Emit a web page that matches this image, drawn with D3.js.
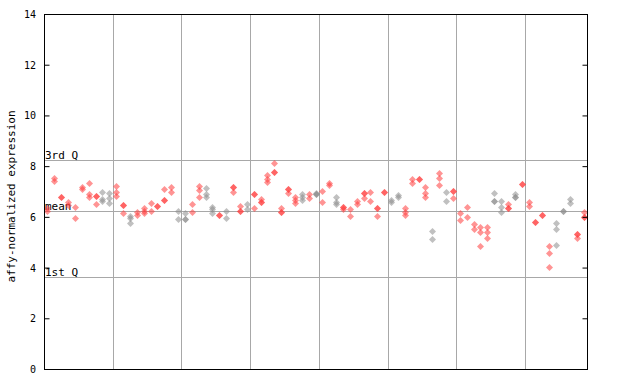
<!DOCTYPE html>
<html>
<head>
<meta charset="utf-8">
<script src="https://cdn.jsdelivr.net/npm/d3@7"></script>
<style>
  body { margin: 0; background: #fff; }
  text { font-family: "DejaVu Sans Mono", monospace; font-size: 10px; fill: #000; }
  text.big { font-size: 11px; }
</style>
</head>
<body>
<div id="chart"></div>
<script>
// values per sample column
let expr = [
  [6.35, 6.22], [7.52, 7.42], [6.77, 6.77], [6.57, 6.47], [6.38, 5.94],
  [7.19, 7.10], [7.32, 6.89, 6.77], [6.83, 6.83, 6.49], [7.0, 6.7, 6.62], [6.93, 6.73, 6.56],
  [7.22, 6.97, 6.82], [6.48, 6.48, 6.14], [6.05, 5.97, 5.75], [6.18, 6.07], [6.34, 6.24, 6.16],
  [6.55, 6.22], [6.44, 6.44], [7.08, 6.65, 6.65], [7.18, 6.99], [6.22, 5.93],
  [6.14, 5.91, 5.91], [6.49, 6.19], [7.23, 7.07, 6.78], [7.12, 6.89, 6.79], [6.4, 6.3, 6.14],
  [6.08, 6.08], [6.22, 5.94], [7.16, 7.16, 6.99], [6.43, 6.23, 6.23], [6.5, 6.3],
  [6.89, 6.89, 6.34], [6.7, 6.58, 6.58], [7.66, 7.49, 7.36], [8.11, 7.78, 7.78], [6.34, 6.2, 6.2],
  [7.08, 7.08, 6.95], [6.77, 6.66, 6.53], [6.9, 6.79, 6.65], [6.9, 6.73], [6.95, 6.89, 6.89],
  [7.02, 6.58], [7.35, 7.24], [6.77, 6.58, 6.49], [6.4, 6.4, 6.31], [6.3, 6.02],
  [6.61, 6.49], [6.95, 6.95, 6.73], [6.97, 6.61], [6.36, 6.36, 6.02], [6.99, 6.99],
  [6.66, 6.58], [6.86, 6.78], [6.34, 6.2, 6.07], [7.49, 7.32], [7.49, 7.49],
  [7.16, 6.95, 6.79], [5.44, 5.11], [7.71, 7.52, 7.26], [6.97, 6.62], [7.03, 7.03, 6.73],
  [6.16, 5.88], [6.4, 5.98], [5.7, 5.51], [5.59, 5.41, 4.84], [5.59, 5.39, 5.15],
  [6.93, 6.64, 6.64], [6.64, 6.4, 6.19], [6.49, 6.36, 6.36], [6.89, 6.77, 6.77], [7.28, 7.28],
  [6.6, 6.44], [5.8, 5.8], [6.08, 6.08], [4.84, 4.56, 4.02], [5.74, 5.51, 4.88],
  [6.23, 6.23], [6.69, 6.56], [5.32, 5.32, 5.15], [6.2, 6.0, 6.0]
];
// r = red, g = grey, one per column (10 per group)
let colColor = ("rrrrrrrrgg" + "rrgrrrrrrg" + "grrggrgrrg" + "rrrrrrrgrg" +
                "rrgrrrrrrr" + "ggrrrrgrgr" + "rrrrrggrgr" + "rrrrgggrr").split("");

let yTicks = [0, 2, 4, 6, 8, 10, 12, 14];
let groupBreaks = [10, 20, 30, 40, 50, 60, 70];
let qLabels = ["3rd Q", "mean", "1st Q"];
let qValues = [8.23, 6.23, 3.63];

let width = 640, height = 384;
let pLeft = 44, pRight = 587, pTop = 14, pBottom = 369;

let svg = d3.select('#chart').append('svg')
  .attr('width', width)
  .attr('height', height);

let x = d3.scaleLinear().domain([0, expr.length]).range([pLeft, pRight]);
let y = d3.scaleLinear().domain([0, 14]).range([pBottom, pTop]);

// grid lines between groups
svg.selectAll('.vgrid')
  .data(groupBreaks)
  .enter().append('line')
  .attr('x1', d => Math.round(x(d)) + 0.5).attr('x2', d => Math.round(x(d)) + 0.5)
  .attr('y1', pTop).attr('y2', pBottom)
  .attr('stroke', '#a8a8a8');

// quartile / mean lines
svg.selectAll('.qline')
  .data(qValues)
  .enter().append('line')
  .attr('x1', pLeft).attr('x2', pRight)
  .attr('y1', d => Math.round(y(d)) + 0.5).attr('y2', d => Math.round(y(d)) + 0.5)
  .attr('stroke', '#a8a8a8');

svg.selectAll('.qlabel')
  .data(qValues)
  .enter().append('text')
  .attr('class', 'big')
  .attr('x', pLeft + 1)
  .attr('y', d => Math.round(y(d)) - 1)
  .text((d, i) => qLabels[i]);

// points
let pts = [];
expr.forEach(function(vals, i) {
  vals.forEach(function(v) { pts.push({ i: i, v: v, c: colColor[i] }); });
});

svg.selectAll('.pt')
  .data(pts)
  .enter().append('path')
  .attr('d', function(d) {
    let cx = Math.round(x(d.i + 0.5)) + 0.5, cy = Math.round(y(d.v)) + 0.5;
    return 'M' + cx + ',' + (cy - 3.5) + 'L' + (cx + 3.5) + ',' + cy +
      'L' + cx + ',' + (cy + 3.5) + 'L' + (cx - 3.5) + ',' + cy + 'Z';
  })
  .attr('fill', d => d.c === 'r' ? '#ff3c3c' : '#8c8c8c')
  .attr('fill-opacity', 0.55);

// frame
svg.append('rect')
  .attr('x', pLeft + 0.5).attr('y', pTop + 0.5)
  .attr('width', pRight - pLeft).attr('height', pBottom - pTop)
  .attr('fill', 'none').attr('stroke', '#000');

// ticks on both sides, pointing inward
svg.append('g')
  .attr('transform', 'translate(' + (pLeft + 0.5) + ',0)')
  .call(d3.axisRight(y).tickValues(yTicks).tickSize(5).tickFormat(''))
  .call(g => g.select('.domain').remove());

svg.append('g')
  .attr('transform', 'translate(' + (pRight + 0.5) + ',0)')
  .call(d3.axisLeft(y).tickValues(yTicks).tickSize(5).tickFormat(''))
  .call(g => g.select('.domain').remove());

svg.selectAll('.ylab')
  .data(yTicks)
  .enter().append('text')
  .attr('x', 36)
  .attr('y', d => y(d) + 4)
  .attr('text-anchor', 'end')
  .text(d => d);

svg.append('text')
  .attr('class', 'big')
  .attr('transform', 'translate(15,' + ((pTop + pBottom) / 2 + 5) + ') rotate(-90)')
  .attr('text-anchor', 'middle')
  .text('affy-normalized expression');
</script>
</body>
</html>
